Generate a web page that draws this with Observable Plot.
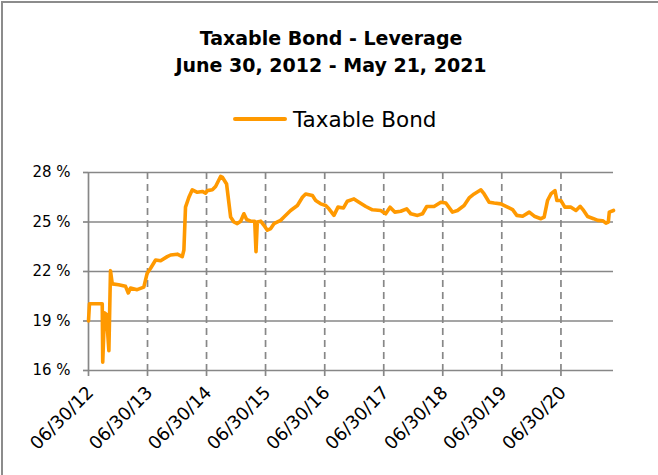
<!DOCTYPE html>
<html>
<head>
<meta charset="utf-8">
<script src="https://cdn.jsdelivr.net/npm/d3@7"></script>
<script src="https://cdn.jsdelivr.net/npm/@observablehq/plot@0.6"></script>
<style>
  html, body { margin: 0; padding: 0; background: #fff; }
  #wrap { position: relative; width: 658px; height: 475px; overflow: hidden; background: #fff; }
  #frame { position: absolute; left: 1px; top: 1px; width: 720px; height: 520px; border: 2px solid #8c8c8c; box-sizing: border-box; }
  #title { position: absolute; left: 0; top: 25px; width: 662px; text-align: center; font-family: "DejaVu Sans", sans-serif; font-weight: bold; font-size: 19px; line-height: 27px; color: #000; }
  #legend { position: absolute; left: 233px; top: 105px; height: 28px; display: flex; align-items: center; font-family: "DejaVu Sans", sans-serif; font-size: 21.5px; color: #000; }
  #legend .sw { width: 54px; height: 4px; background: #FF9900; margin-right: 6px; border-radius: 2px; }
  #chart { position: absolute; left: 0; top: 140px; }
</style>
</head>
<body>
<div id="wrap">
  <div id="frame"></div>
  <div id="title">Taxable Bond - Leverage<br>June 30, 2012 - May 21, 2021</div>
  <div id="legend"><div class="sw"></div><span>Taxable Bond</span></div>
  <div id="chart"></div>
</div>
<script>
const seriesName = "Taxable Bond";

const dates = [
  "2012-06-30","2012-07-06","2012-09-23","2012-09-26","2012-10-07","2012-10-19","2012-11-03","2012-11-13","2012-11-24",
  "2013-01-02","2013-02-14","2013-03-03","2013-03-17","2013-04-27","2013-06-07","2013-06-28","2013-07-19","2013-08-19",
  "2013-09-19","2013-10-30","2013-11-20","2013-12-31","2014-01-31","2014-02-10","2014-02-20","2014-03-13","2014-04-03",
  "2014-05-04","2014-06-04","2014-06-24","2014-07-05","2014-08-05","2014-08-25","2014-09-25","2014-10-07","2014-11-01",
  "2014-11-26","2014-12-16","2015-01-06","2015-01-27","2015-02-16","2015-03-05","2015-03-30","2015-04-24","2015-05-02",
  "2015-05-10","2015-05-31","2015-06-20","2015-07-11","2015-08-01","2015-08-21","2015-10-01","2015-10-22","2015-12-02",
  "2016-01-13","2016-02-13","2016-03-04","2016-04-15","2016-05-05","2016-06-05","2016-07-06","2016-07-26","2016-08-26",
  "2016-09-20","2016-10-24","2016-11-17","2016-12-28","2017-01-28","2017-03-11","2017-04-21","2017-06-11","2017-07-12",
  "2017-08-08","2017-09-06","2017-10-13","2017-11-19","2017-12-14","2018-01-25","2018-02-25","2018-03-23","2018-05-07",
  "2018-06-18","2018-07-19","2018-08-29","2018-09-29","2018-11-09","2018-12-10","2019-01-10","2019-02-21","2019-03-13",
  "2019-04-13","2019-05-14","2019-06-24","2019-08-05","2019-09-05","2019-10-01","2019-11-06","2019-12-17","2020-01-17",
  "2020-02-27","2020-03-18","2020-04-08","2020-04-29","2020-05-24","2020-06-05","2020-06-30","2020-07-24","2020-08-31",
  "2020-10-01","2020-10-27","2020-11-17","2020-12-12","2021-01-18","2021-02-12","2021-03-15","2021-04-04","2021-04-19",
  "2021-04-25","2021-05-21"
];

const leverage = [
  19.0, 20.05, 20.05, 16.5, 19.5, 19.4, 17.2, 22.05, 21.25,
  21.2, 21.1, 20.7, 21.0, 20.9, 21.05, 21.9, 22.2, 22.7,
  22.65, 22.9, 23.0, 23.05, 22.9, 23.3, 25.9, 26.5, 26.95,
  26.8, 26.85, 26.75, 26.9, 26.95, 27.15, 27.76, 27.7, 27.3,
  25.3, 25.0, 24.9, 25.05, 25.5, 25.15, 25.05, 25.05, 23.2,
  25.0, 25.05, 24.8, 24.5, 24.6, 24.9, 25.1, 25.3, 25.7,
  26.0, 26.5, 26.7, 26.6, 26.3, 26.1, 26.0, 25.8, 25.4,
  25.9, 25.85, 26.26, 26.4, 26.2, 25.94, 25.74, 25.7, 25.5,
  25.9, 25.6, 25.65, 25.8, 25.5, 25.4, 25.5, 25.94, 25.94,
  26.2, 26.15, 25.6, 25.7, 26.0, 26.46, 26.7, 26.95, 26.7,
  26.2, 26.15, 26.1, 25.9, 25.75, 25.4, 25.35, 25.6, 25.35,
  25.2, 25.3, 26.3, 26.7, 26.9, 26.3, 26.3, 25.9, 25.9,
  25.7, 25.95, 25.7, 25.33, 25.2, 25.1, 25.08, 24.93, 25.0,
  25.6, 25.7
];

const xDomain = ["2012-06-30", "2021-05-21"];
const xTicks = ["2012-06-30","2013-06-30","2014-06-30","2015-06-30","2016-06-30","2017-06-30","2018-06-30","2019-06-30","2020-06-30"];
const xTickLabels = ["06/30/12","06/30/13","06/30/14","06/30/15","06/30/16","06/30/17","06/30/18","06/30/19","06/30/20"];
const yTicks = [16, 19, 22, 25, 28];

const data = dates.map((d, i) => ({date: new Date(d), value: leverage[i]}));
const tickDates = xTicks.map(d => new Date(d));
const grid = "#878787";

const chart = Plot.plot({
  width: 658,
  height: 335,
  marginTop: 32,
  marginBottom: 105,
  marginLeft: 88,
  marginRight: 45,
  style: {fontFamily: "\"DejaVu Sans\", sans-serif", fontSize: "15px", color: "#000", background: "transparent", overflow: "visible"},
  x: {type: "utc", domain: xDomain.map(d => new Date(d))},
  y: {domain: [16, 28]},
  marks: [
    Plot.ruleY(yTicks, {stroke: grid, strokeWidth: 1.7}),
    Plot.ruleX(tickDates.slice(1), {stroke: grid, strokeWidth: 1.7, strokeDasharray: "7,5"}),
    Plot.ruleX(tickDates.slice(0, 1), {stroke: grid, strokeWidth: 1.7}),
    Plot.axisX({ticks: tickDates, tickSize: 6, tickFormat: () => "", stroke: grid, strokeWidth: 1.7, label: null}),
    Plot.axisY({ticks: yTicks, tickSize: 5, tickPadding: 13, tickFormat: d => d + " %", stroke: grid, strokeWidth: 1.7, label: null, fontSize: 15}),
    Plot.text(tickDates, {x: d => d, text: (d, i) => xTickLabels[i], frameAnchor: "bottom", rotate: -45, textAnchor: "end", lineAnchor: "middle", dx: 2, dy: 19, fontSize: 18, fill: "#000"}),
    Plot.line(data, {x: "date", y: "value", stroke: "#FF9900", strokeWidth: 3.6, strokeLinejoin: "round", strokeLinecap: "round"})
  ]
});
document.getElementById("chart").appendChild(chart);
</script>
</body>
</html>
